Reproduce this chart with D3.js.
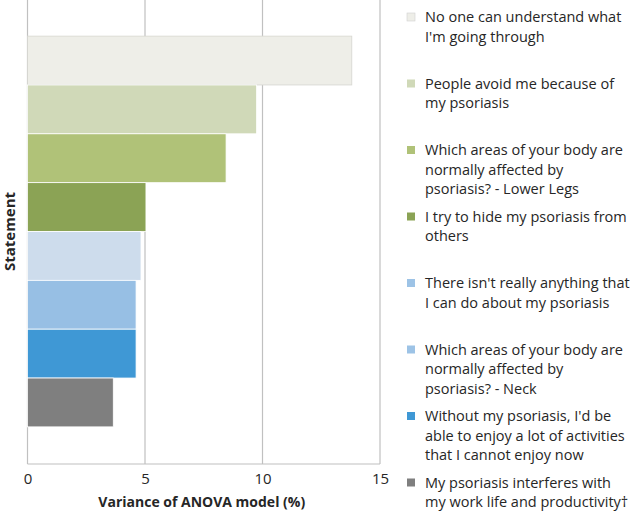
<!DOCTYPE html>
<html><head><meta charset="utf-8">
<script src="https://cdn.jsdelivr.net/npm/d3@7"></script>
<style>body{margin:0;background:#fff}svg{display:block}</style>
</head><body>
<svg id="c" width="632" height="513"></svg>
<script>
const statements = [
  ["No one can understand what", "I'm going through"],
  ["People avoid me because of", "my psoriasis"],
  ["Which areas of your body are", "normally affected by", "psoriasis? - Lower Legs"],
  ["I try to hide my psoriasis from", "others"],
  ["There isn't really anything that", "I can do about my psoriasis"],
  ["Which areas of your body are", "normally affected by", "psoriasis? - Neck"],
  ["Without my psoriasis, I'd be", "able to enjoy a lot of activities", "that I cannot enjoy now"],
  ["My psoriasis interferes with", "my work life and productivity\u2020"]
];
const values = [13.8, 9.75, 8.45, 5.04, 4.83, 4.62, 4.62, 3.65];
const colors = ["#eeeee8", "#d0d9b8", "#b0c278", "#8ba355", "#cddcec", "#97bfe4", "#3f98d5", "#7f7f7f"];
const legendColors = ["#eeeee8", "#d0d9b8", "#b0c278", "#8ba355", "#9dc3e6", "#9dc3e6", "#3f98d5", "#7f7f7f"];
const xTicks = [0, 5, 10, 15];
const xTitle = "Variance of ANOVA model (%)";
const yTitle = "Statement";

const svg = d3.select("#c");
const font = "'Open Sans', sans-serif";
const txt = "#262626";
const L = 27.5, R = 380, T = -1, B = 464;

const x = d3.scaleLinear().domain([0, 15]).range([L, R]);
const yOuter = d3.scaleBand().domain(["g"]).range([T, B]).paddingInner(0).paddingOuter(0.095);
const y = d3.scaleBand().domain(d3.range(values.length))
  .range([yOuter("g"), yOuter("g") + yOuter.bandwidth()]).padding(0);

// gridlines
svg.append("g").selectAll("line").data(xTicks).join("line")
  .attr("x1", d => x(d)).attr("x2", d => x(d)).attr("y1", T).attr("y2", B)
  .attr("stroke", "#c0c0c0").attr("stroke-width", 1.2);
svg.append("line").attr("x1", L).attr("x2", R).attr("y1", B).attr("y2", B)
  .attr("stroke", "#c0c0c0").attr("stroke-width", 1.2);

// bars
svg.append("g").selectAll("rect").data(values).join("rect")
  .attr("x", x(0)).attr("y", (d, i) => y(i))
  .attr("width", d => x(d) - x(0)).attr("height", y.bandwidth())
  .attr("fill", (d, i) => colors[i])
  .attr("stroke", (d, i) => i === 0 ? "#d6d6d0" : "#ffffff").attr("stroke-width", 0.8);

// x axis labels
const ax = svg.append("g").attr("transform", `translate(0,${B})`)
  .call(d3.axisBottom(x).tickValues(xTicks).tickSize(0).tickPadding(9).tickFormat(d3.format("d")));
ax.select(".domain").remove();
ax.selectAll("text").attr("font-family", font).attr("font-size", 15).attr("fill", txt);

svg.append("text").attr("x", (L + R) / 2 - 2).attr("y", 507).attr("text-anchor", "middle")
  .attr("font-family", font).attr("font-size", 14).attr("font-weight", "bold").attr("fill", txt)
  .text(xTitle);
svg.append("text").attr("transform", `translate(15,${(T + B) / 2}) rotate(-90)`)
  .attr("text-anchor", "middle").attr("font-family", font).attr("font-size", 15)
  .attr("font-weight", "bold").attr("fill", txt).text(yTitle);

// legend
const legY0 = 17, legStep = 66.5, lineH = 19.5;
const leg = svg.append("g").selectAll("g").data(statements).join("g")
  .attr("transform", (d, i) => `translate(407,${legY0 + i * legStep})`);
leg.append("rect").attr("x", 0).attr("y", -4).attr("width", 8).attr("height", 8)
  .attr("fill", (d, i) => legendColors[i]).attr("stroke", (d, i) => i === 0 ? "#cfcfcf" : "none").attr("stroke-width", 0.6);
leg.append("text").attr("font-family", font).attr("font-size", 14.5).attr("fill", txt)
  .selectAll("tspan").data(d => d).join("tspan")
  .attr("x", 18).attr("y", (d, j) => j * lineH).attr("dy", "0.35em").text(d => d);
</script>
</body></html>
